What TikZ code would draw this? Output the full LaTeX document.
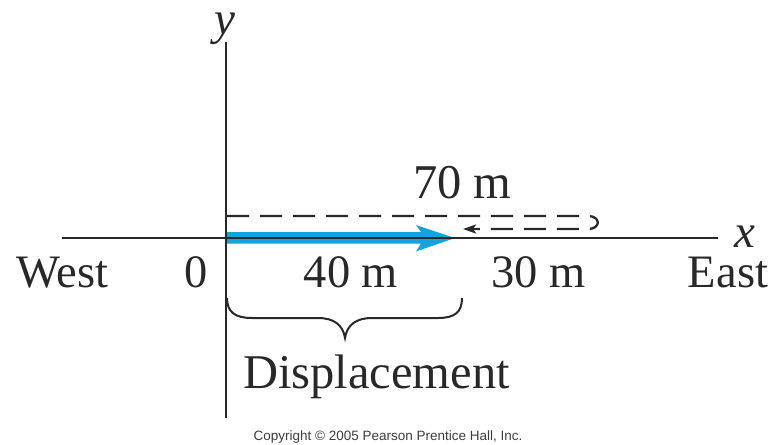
\documentclass[tikz,border=0pt]{standalone}
\usepackage{fontspec}
\setmainfont{Liberation Serif}
\newfontfamily\copyfont{Liberation Sans}
\usetikzlibrary{arrows.meta}
\definecolor{dispblue}{RGB}{22,162,222}
\definecolor{ink}{RGB}{40,40,40}
\definecolor{copygray}{RGB}{60,60,60}
\begin{document}
\begin{tikzpicture}[x=1pt,y=-1pt,
  lab/.style={inner sep=0pt, anchor=base, text=ink, font=\fontsize{46.5}{50}\selectfont},
  big/.style={inner sep=0pt, anchor=base, text=ink, font=\fontsize{48.5}{52}\selectfont},
  axislbl/.style={inner sep=0pt, anchor=base, text=ink, font=\fontsize{47}{50}\selectfont\itshape, text height=0.47em},
  axisline/.style={draw=ink, line width=2.4pt},
  pathline/.style={draw=ink, line width=2.3pt, dash pattern=on 22pt off 11pt},
  bracestroke/.style={draw=ink, line width=2pt},
  copytxt/.style={inner sep=0pt, anchor=base, text=copygray, font=\copyfont\fontsize{13.5}{15}\selectfont}]
\useasboundingbox (0,0) rectangle (775,444);
% coordinates of the axes
\coordinate (xl) at (62,238);
\coordinate (xr) at (718,238);
\coordinate (yt) at (226,42);
\coordinate (yb) at (226,418);
% blue displacement arrow
\fill[dispblue] (226,232) -- (421,232) -- (416,225) -- (455,238) -- (416,251.5) -- (421,243.5) -- (226,243.5) -- cycle;
% axes
\draw[axisline] (xl) -- (xr);
\draw[axisline] (yt) -- (yb);
% dashed path travelled
\coordinate (ps) at (227,216);
\coordinate (pe) at (463,229);
\draw[pathline, -{Stealth[length=13pt,width=9pt,inset=3pt]}] (ps) -- (588,216) .. controls (601,216) and (601,229) .. (588,229) -- (pe);
% brace
\draw[bracestroke] (227,298) .. controls (227,312) and (235,318) .. (252,318) -- (318,318) .. controls (334,318) and (343,325) .. (345,338) .. controls (347,325) and (356,318) .. (372,318) -- (438,318) .. controls (455,318) and (462,312) .. (462,298);
% labels
\node[axislbl] (ylab) at (225,35) {y};
\node[axislbl, text depth=0pt] (xlab) at (745,247) {x};
\node[big] (seventy) at (462.5,198) {70 m};
\node[lab] (west) at (62.5,287) {West};
\node[lab] (zero) at (196.5,287) {0};
\node[lab] (forty) at (351,287) {40 m};
\node[lab] (thirty) at (538.5,287) {30 m};
\node[lab] (east) at (728,287) {East};
\node[big] (disp) at (376.5,388) {Displacement};
\node[copytxt] (copy) at (388,440) {Copyright © 2005 Pearson Prentice Hall, Inc.};
\end{tikzpicture}
\end{document}
